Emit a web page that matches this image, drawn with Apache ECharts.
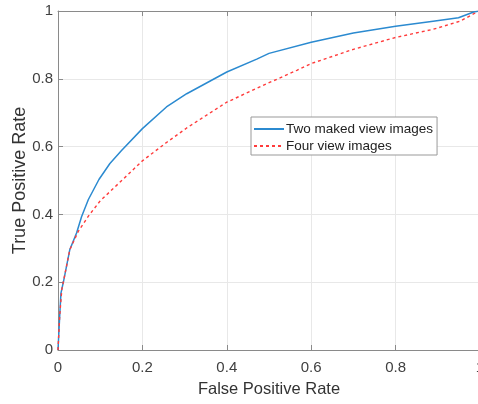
<!DOCTYPE html>
<html>
<head>
<meta charset="utf-8">
<script src="https://cdn.jsdelivr.net/npm/echarts@6/dist/echarts.min.js"></script>
<style>
  html, body { margin: 0; padding: 0; background: #fff; }
  #chart { width: 478px; height: 404px; }
</style>
</head>
<body>
<div id="chart"></div>
<script>
// ROC curves: false positive rate vs true positive rate
const seriesNames = ['Two maked view images', 'Four view images'];

const twoMakedFpr = [0, 0.004, 0.007, 0.013, 0.028, 0.044, 0.056, 0.072, 0.097, 0.123, 0.15, 0.2, 0.257, 0.305, 0.4, 0.471, 0.5, 0.6, 0.7, 0.8, 0.889, 0.949, 0.985, 1];
const twoMakedTpr = [0, 0.10, 0.168, 0.202, 0.296, 0.345, 0.394, 0.444, 0.503, 0.55, 0.588, 0.653, 0.717, 0.756, 0.82, 0.858, 0.875, 0.908, 0.935, 0.955, 0.97, 0.98, 0.997, 1];

const fourViewFpr = [0, 0.004, 0.009, 0.028, 0.048, 0.072, 0.1, 0.151, 0.2, 0.257, 0.305, 0.4, 0.494, 0.566, 0.6, 0.7, 0.8, 0.889, 0.953, 0.99, 1];
const fourViewTpr = [0, 0.10, 0.178, 0.296, 0.35, 0.395, 0.44, 0.50, 0.558, 0.612, 0.655, 0.731, 0.785, 0.825, 0.845, 0.887, 0.922, 0.946, 0.97, 0.995, 1];

const axisTicks = [0, 0.2, 0.4, 0.6, 0.8, 1];

const pairs = (xs, ys) => xs.map((x, i) => [x, ys[i]]);
const fmt = v => (axisTicks.includes(+v.toFixed(1)) ? String(+v.toFixed(1)) : '');

const FONT = 'Liberation Sans, Arial, sans-serif';
const AXIS_GRAY = '#8a8a8a';

const chart = echarts.init(document.getElementById('chart'), null, { renderer: 'canvas' });

const baseX = {
  type: 'value', min: 0, max: 1, interval: 0.2,
  axisLine: { show: true, lineStyle: { color: AXIS_GRAY, width: 1 } },
  axisTick: { show: true, inside: true, length: 5, lineStyle: { color: AXIS_GRAY } },
};

chart.setOption({
  animation: false,
  backgroundColor: '#fff',
  // plot box runs slightly past the right edge of the canvas
  grid: { left: 58, top: 11, width: 422, bottom: 54, containLabel: false, outerBoundsMode: 'none' },
  legend: {
    orient: 'vertical',
    left: 251, top: 117,
    backgroundColor: '#fff',
    borderColor: '#999', borderWidth: 1, borderRadius: 0,
    padding: [5, 4, 2, 2],
    itemGap: 3,
    itemWidth: 30, itemHeight: 16,
    itemStyle: { opacity: 0 },
    textStyle: { fontFamily: FONT, fontSize: 13.5, color: '#222', padding: [0, 0, 0, -3] },
    data: seriesNames
  },
  xAxis: [
    Object.assign({}, baseX, {
      position: 'bottom',
      name: 'False Positive Rate', nameLocation: 'middle', nameGap: 31,
      nameMoveOverlap: false,
      nameTextStyle: { fontFamily: FONT, fontSize: 16.5, color: '#333' },
      axisLabel: { fontFamily: FONT, fontSize: 15, color: '#404040', margin: 10, formatter: fmt },
      splitLine: { show: true, lineStyle: { color: '#e8e8e8', width: 1 } }
    }),
    Object.assign({}, baseX, {
      position: 'top',
      axisLabel: { show: false },
      splitLine: { show: false }
    })
  ],
  yAxis: {
    type: 'value', min: 0, max: 1, interval: 0.2,
    name: 'True Positive Rate', nameLocation: 'middle', nameGap: 29,
    nameMoveOverlap: false,
    nameTextStyle: { fontFamily: FONT, fontSize: 18, color: '#333' },
    axisLine: { show: true, lineStyle: { color: AXIS_GRAY, width: 1 } },
    axisTick: { show: true, inside: true, length: 5, lineStyle: { color: AXIS_GRAY } },
    axisLabel: { fontFamily: FONT, fontSize: 15, color: '#404040', margin: 5, formatter: fmt },
    splitLine: { show: true, lineStyle: { color: '#e8e8e8', width: 1 } }
  },
  series: [
    {
      name: seriesNames[0], type: 'line', xAxisIndex: 0,
      data: pairs(twoMakedFpr, twoMakedTpr),
      showSymbol: false, symbol: 'none', smooth: false,
      lineStyle: { color: '#2b8ad0', width: 1.5 },
      itemStyle: { color: '#2b8ad0' },
      z: 3
    },
    {
      name: seriesNames[1], type: 'line', xAxisIndex: 0,
      data: pairs(fourViewFpr, fourViewTpr),
      showSymbol: false, symbol: 'none', smooth: false,
      lineStyle: { color: '#ff3b3b', width: 1.4, type: [3, 3] },
      itemStyle: { color: '#ff3b3b' },
      z: 4
    }
  ]
});
</script>
</body>
</html>
